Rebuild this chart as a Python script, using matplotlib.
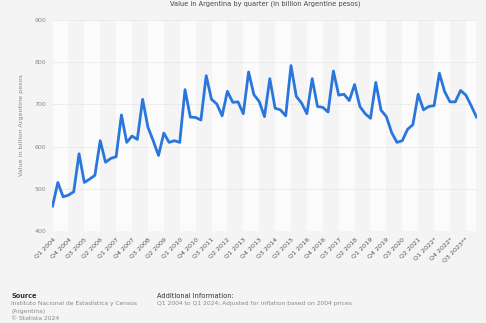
import matplotlib
matplotlib.use("Agg")
import matplotlib.pyplot as plt
import numpy as np

values = [459, 515, 481, 485, 493, 583, 515, 523, 532, 614, 563, 572, 576, 675, 610, 625,
          617, 712, 646, 614, 579, 632, 610, 614, 610, 735, 670, 669, 663, 768, 712, 701,
          673, 731, 705, 706, 678, 777, 723, 707, 671, 761, 691, 687, 673, 792, 719, 703,
          678, 761, 695, 693, 682, 779, 722, 724, 709, 747, 695, 678, 667, 752, 686, 671,
          633, 610, 614, 641, 652, 724, 687, 695, 697, 774, 730, 706, 706, 733, 722, 697, 670]

quarters = []
for y in range(2004, 2025):
    for q in range(1, 5):
        suffix = "*" if y == 2022 else ("**" if y == 2023 else "")
        quarters.append(f"Q{q} {y}{suffix}")
quarters = quarters[:len(values)]

yticks = [400, 500, 600, 700, 800, 900]

fig = plt.figure(figsize=(4.86, 3.23), dpi=100)
fig.patch.set_facecolor("#f4f4f4")
ax = fig.add_axes([52/486, 1 - 231/323, 425/486, 211/323])
ax.set_facecolor("#f4f4f4")

x = np.arange(len(values))
for k, start in enumerate(range(0, len(values) - 1, 3)):
    if k % 2 == 0:
        ax.axvspan(start, min(start + 3, len(values) - 1), color="#fbfbfb", zorder=0, lw=0)

for yt in yticks:
    ax.axhline(yt, color="#e2e2e2", lw=0.6, ls=(0, (2, 1)), zorder=1)

ax.plot(x, values, color="#2a76dc", lw=2.0, zorder=3, solid_joinstyle="round")

ax.set_xlim(-0.1, len(values) - 0.9)
ax.set_ylim(400, 900)
ax.set_yticks(yticks)
ax.set_yticklabels([str(v) for v in yticks], fontsize=4.5, color="#888888")
ticks_idx = list(range(0, len(values) - 1, 3))
ax.set_xticks(ticks_idx)
ax.set_xticklabels([quarters[i] for i in ticks_idx], rotation=45, ha="right",
                   rotation_mode="anchor", fontsize=4.6, color="#555555")
ax.tick_params(length=0, pad=4)
for s in ax.spines.values():
    s.set_visible(False)
ax.set_ylabel("Value in billion Argentine pesos", fontsize=4.6, color="#888888", labelpad=8)

fig.text(0.545, 0.997, "Value in Argentina by quarter (in billion Argentine pesos)",
         ha="center", va="top", fontsize=4.8, color="#444444")

fig.text(11/486, 1 - 296/323, "Source", fontsize=4.8, color="#333333", fontweight="bold", va="center")
fig.text(11/486, 1 - 303.5/323, "Instituto Nacional de Estadística y Censos", fontsize=4.3, color="#888888", va="center")
fig.text(11/486, 1 - 311/323, "(Argentina)", fontsize=4.3, color="#888888", va="center")
fig.text(11/486, 1 - 318/323, "© Statista 2024", fontsize=4.3, color="#888888", va="center")
fig.text(157/486, 1 - 296/323, "Additional Information:", fontsize=4.8, color="#333333", va="center")
fig.text(157/486, 1 - 303.5/323, "Q1 2004 to Q1 2024; Adjusted for inflation based on 2004 prices",
         fontsize=4.3, color="#888888", va="center")

fig.savefig("out.png", dpi=100, facecolor=fig.get_facecolor())
